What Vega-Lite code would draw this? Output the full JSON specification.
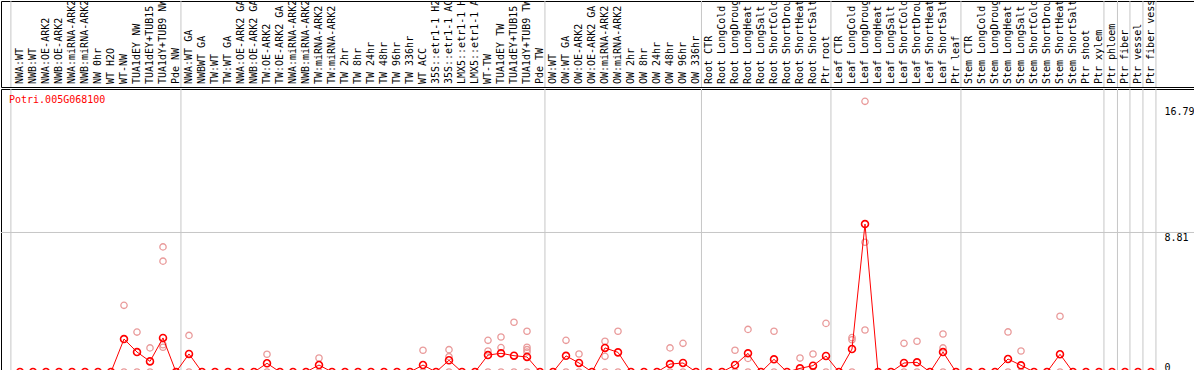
{
  "$schema": "https://vega.github.io/schema/vega-lite/v6.json",
  "padding": 0,
  "background": "white",
  "config": {"view": {"stroke": "black", "strokeWidth": 1}, "concat": {"spacing": 0}},
  "spacing": 0,
  "datasets": {
    "samples": [
      {"i":0,"name":"NWA:WT","mean":0},{"i":1,"name":"NWB:WT","mean":0},{"i":2,"name":"NWA:OE-ARK2","mean":0},{"i":3,"name":"NWB:OE-ARK2","mean":0},
      {"i":4,"name":"NWA:miRNA-ARK2","mean":0},{"i":5,"name":"NWB:miRNA-ARK2","mean":0},{"i":6,"name":"NW 0hr","mean":0},{"i":7,"name":"WT H2O","mean":0},
      {"i":8,"name":"WT-NW","mean":2.08},{"i":9,"name":"TUA1dEY NW","mean":1.26},{"i":10,"name":"TUA1dEY+TUB15","mean":0.67},{"i":11,"name":"TUA1dY+TUB9 NW","mean":2.15},
      {"i":12,"name":"Pde NW","mean":0},{"i":13,"name":"NWA:WT GA","mean":1.14},{"i":14,"name":"NWBWT GA","mean":0},{"i":15,"name":"TW:WT","mean":0},
      {"i":16,"name":"TW:WT GA","mean":0},{"i":17,"name":"NWA:OE-ARK2 GA","mean":0},{"i":18,"name":"NWB:OE-ARK2 GA","mean":0},{"i":19,"name":"TW:OE-ARK2","mean":0.55},
      {"i":20,"name":"TW:OE-ARK2 GA","mean":0},{"i":21,"name":"NWA:miRNA-ARK2 GA","mean":0},{"i":22,"name":"NWB:miRNA-ARK2 GA","mean":0},{"i":23,"name":"TW:miRNA-ARK2","mean":0.44},
      {"i":24,"name":"TW:miRNA-ARK2 GA","mean":0},{"i":25,"name":"TW 2hr","mean":0},{"i":26,"name":"TW 8hr","mean":0},{"i":27,"name":"TW 24hr","mean":0},
      {"i":28,"name":"TW 48hr","mean":0},{"i":29,"name":"TW 96hr","mean":0},{"i":30,"name":"TW 336hr","mean":0},{"i":31,"name":"WT ACC","mean":0.44},
      {"i":32,"name":"35S::etr1-1 H2O","mean":0},{"i":33,"name":"35S::etr1-1 ACC","mean":0.74},{"i":34,"name":"LMX5::etr1-1 H2O","mean":0},{"i":35,"name":"LMX5::etr1-1 ACC","mean":0},
      {"i":36,"name":"WT-TW","mean":1.07},{"i":37,"name":"TUA1dEY TW","mean":1.18},{"i":38,"name":"TUA1dEY+TUB15 TW","mean":1.03},{"i":39,"name":"TUA1dY+TUB9 TW","mean":0.95},
      {"i":40,"name":"Pde TW","mean":0},{"i":41,"name":"OW:WT","mean":0},{"i":42,"name":"OW:WT GA","mean":1.02},{"i":43,"name":"OW:OE-ARK2","mean":0.57},
      {"i":44,"name":"OW:OE-ARK2 GA","mean":0},{"i":45,"name":"OW:miRNA-ARK2","mean":1.52},{"i":46,"name":"OW:miRNA-ARK2","mean":1.24},{"i":47,"name":"OW 2hr","mean":0},
      {"i":48,"name":"OW 8hr","mean":0},{"i":49,"name":"OW 24hr","mean":0},{"i":50,"name":"OW 48hr","mean":0.5},{"i":51,"name":"OW 96hr","mean":0.57},
      {"i":52,"name":"OW 336hr","mean":0},{"i":53,"name":"Root CTR","mean":0},{"i":54,"name":"Root LongCold","mean":0},{"i":55,"name":"Root LongDrought","mean":0.44},
      {"i":56,"name":"Root LongHeat","mean":1.18},{"i":57,"name":"Root LongSalt","mean":0},{"i":58,"name":"Root ShortCold","mean":0.8},{"i":59,"name":"Root ShortDrought","mean":0},
      {"i":60,"name":"Root ShortHeat","mean":0.23},{"i":61,"name":"Root ShortSalt","mean":0.4},{"i":62,"name":"Ptr root","mean":1.01},{"i":63,"name":"Leaf CTR","mean":0},
      {"i":64,"name":"Leaf LongCold","mean":1.45},{"i":65,"name":"Leaf LongDrought","mean":9.34},{"i":66,"name":"Leaf LongHeat","mean":0},{"i":67,"name":"Leaf LongSalt","mean":0},
      {"i":68,"name":"Leaf ShortCold","mean":0.57},{"i":69,"name":"Leaf ShortDrought","mean":0.61},{"i":70,"name":"Leaf ShortHeat","mean":0},{"i":71,"name":"Leaf ShortSalt","mean":1.26},
      {"i":72,"name":"Ptr leaf","mean":0},{"i":73,"name":"Stem CTR","mean":0},{"i":74,"name":"Stem LongCold","mean":0},{"i":75,"name":"Stem LongDrought","mean":0},
      {"i":76,"name":"Stem LongHeat","mean":0.82},{"i":77,"name":"Stem LongSalt","mean":0.42},{"i":78,"name":"Stem ShortCold","mean":0},{"i":79,"name":"Stem ShortDrought","mean":0},
      {"i":80,"name":"Stem ShortHeat","mean":1.12},{"i":81,"name":"Stem ShortSalt","mean":0},{"i":82,"name":"Ptr shoot","mean":0},{"i":83,"name":"Ptr xylem","mean":0},
      {"i":84,"name":"Ptr phloem","mean":0},{"i":85,"name":"Ptr fiber","mean":0},{"i":86,"name":"Ptr vessel","mean":0},{"i":87,"name":"Ptr fiber vessel","mean":0}
    ],
    "reps": [
      {"i":8,"v":4.21},{"i":8,"v":0},{"i":9,"v":2.52},{"i":9,"v":0},{"i":10,"v":1.52},{"i":10,"v":0},
      {"i":11,"v":7.9},{"i":11,"v":7.0},{"i":11,"v":1.72},{"i":11,"v":1.56},{"i":12,"v":0},
      {"i":13,"v":2.31},{"i":13,"v":0},{"i":19,"v":1.12},{"i":19,"v":0},{"i":23,"v":0.88},{"i":23,"v":0},
      {"i":31,"v":1.37},{"i":31,"v":0},{"i":33,"v":1.41},{"i":33,"v":0.97},{"i":33,"v":0},
      {"i":36,"v":2.0},{"i":36,"v":1.33},{"i":36,"v":0},{"i":37,"v":2.21},{"i":37,"v":1.54},{"i":37,"v":0},
      {"i":38,"v":3.14},{"i":38,"v":0},{"i":39,"v":2.57},{"i":39,"v":1.56},{"i":39,"v":1.41},{"i":39,"v":1.26},{"i":39,"v":0},
      {"i":42,"v":2.0},{"i":42,"v":0},{"i":43,"v":1.14},{"i":43,"v":0},{"i":45,"v":1.94},{"i":45,"v":0.99},{"i":45,"v":0},
      {"i":46,"v":2.57},{"i":46,"v":0},{"i":50,"v":1.52},{"i":50,"v":0},{"i":51,"v":1.81},{"i":51,"v":0},
      {"i":55,"v":1.37},{"i":55,"v":0},{"i":56,"v":2.69},{"i":56,"v":0.86},{"i":56,"v":0},{"i":58,"v":2.57},{"i":58,"v":0},
      {"i":60,"v":0.88},{"i":60,"v":0},{"i":61,"v":1.14},{"i":61,"v":0},{"i":62,"v":3.07},{"i":62,"v":0},
      {"i":64,"v":2.17},{"i":64,"v":2.04},{"i":64,"v":0},{"i":65,"v":17.09},{"i":65,"v":8.19},{"i":65,"v":2.65},
      {"i":68,"v":1.81},{"i":68,"v":0},{"i":69,"v":1.94},{"i":69,"v":0},{"i":71,"v":2.4},{"i":71,"v":1.52},{"i":71,"v":0},
      {"i":76,"v":2.53},{"i":76,"v":0},{"i":77,"v":1.33},{"i":77,"v":0},{"i":80,"v":3.52},{"i":80,"v":0}
    ],
    "seps": [
      {"s":-0.7},{"s":12.38},{"s":40.38},{"s":52.42},{"s":62.38},{"s":72.38},{"s":83.38},{"s":84.42},{"s":85.38},{"s":86.38},{"s":87.38}
    ],
    "gene": [{"gene":"Potri.005G068100","gx":-0.846,"gy":17.17}],
    "grid": [{"g":8.81}]
  },
  "vconcat": [
    {
      "width": 1193,
      "height": 86,
      "layer": [
        {
          "data": {"name": "seps"},
          "mark": {"type": "rule", "color": "#c6c6c6", "strokeWidth": 1},
          "encoding": {"x": {"field": "s", "type": "quantitative", "scale": {"domain": [-1.4615, 90.3077], "nice": false, "zero": false}, "axis": null}}
        },
        {
          "data": {"name": "samples"},
          "mark": {"type": "text", "angle": 270, "align": "left", "baseline": "middle", "dx": 3, "font": "DejaVu Sans Mono", "fontSize": 10, "color": "black", "clip": true},
          "encoding": {
            "x": {"field": "i", "type": "quantitative", "scale": {"domain": [-1.4615, 90.3077], "nice": false, "zero": false}, "axis": null},
            "y": {"datum": 0, "type": "quantitative", "scale": {"domain": [0, 1], "nice": false}, "axis": null},
            "text": {"field": "name"}
          }
        }
      ]
    },
    {
      "width": 1193,
      "height": 283,
      "layer": [
        {
          "data": {"name": "seps"},
          "mark": {"type": "rule", "color": "#c6c6c6", "strokeWidth": 1},
          "encoding": {"x": {"field": "s", "type": "quantitative", "scale": {"domain": [-1.4615, 90.3077], "nice": false, "zero": false}, "axis": null}}
        },
        {
          "data": {"name": "grid"},
          "mark": {"type": "rule", "color": "#c6c6c6", "strokeWidth": 1},
          "encoding": {"y": {"field": "g", "type": "quantitative", "scale": {"domain": [0, 17.87], "nice": false, "zero": false},
              "axis": {"orient": "right", "values": [0, 8.81, 16.79], "labelExpr": "datum.value == 0 ? '0' : format(datum.value, '.2f')", "ticks": false, "tickSize": 0, "domain": false, "grid": false,
                "labelPadding": -30, "labelAlign": "left", "labelBaseline": {"expr": "datum.value == 0 ? 'bottom' : 'top'"},
                "labelFont": "DejaVu Sans Mono", "labelFontSize": 10, "labelColor": "black", "labelFlush": false, "labelOverlap": false, "title": null}}}
        },
        {
          "data": {"name": "reps"},
          "mark": {"type": "point", "shape": "circle", "filled": false, "color": "#e99a9a", "strokeWidth": 1.3, "size": 40, "opacity": 1},
          "encoding": {
            "x": {"field": "i", "type": "quantitative", "scale": {"domain": [-1.4615, 90.3077], "nice": false, "zero": false}, "axis": null},
            "y": {"field": "v", "type": "quantitative"}
          }
        },
        {
          "data": {"name": "samples"},
          "mark": {"type": "line", "color": "#ff0000", "strokeWidth": 1},
          "encoding": {
            "x": {"field": "i", "type": "quantitative", "scale": {"domain": [-1.4615, 90.3077], "nice": false, "zero": false}, "axis": null},
            "y": {"field": "mean", "type": "quantitative"}
          }
        },
        {
          "data": {"name": "samples"},
          "mark": {"type": "point", "shape": "circle", "filled": false, "color": "#ff0000", "strokeWidth": 1.6, "size": 48, "opacity": 1},
          "encoding": {
            "x": {"field": "i", "type": "quantitative", "scale": {"domain": [-1.4615, 90.3077], "nice": false, "zero": false}, "axis": null},
            "y": {"field": "mean", "type": "quantitative"}
          }
        },
        {
          "data": {"name": "gene"},
          "mark": {"type": "text", "align": "left", "baseline": "middle", "font": "DejaVu Sans Mono", "fontSize": 10, "color": "#ff0000"},
          "encoding": {
            "x": {"field": "gx", "type": "quantitative", "scale": {"domain": [-1.4615, 90.3077], "nice": false, "zero": false}, "axis": null},
            "y": {"field": "gy", "type": "quantitative"},
            "text": {"field": "gene"}
          }
        }
      ]
    }
  ]
}
